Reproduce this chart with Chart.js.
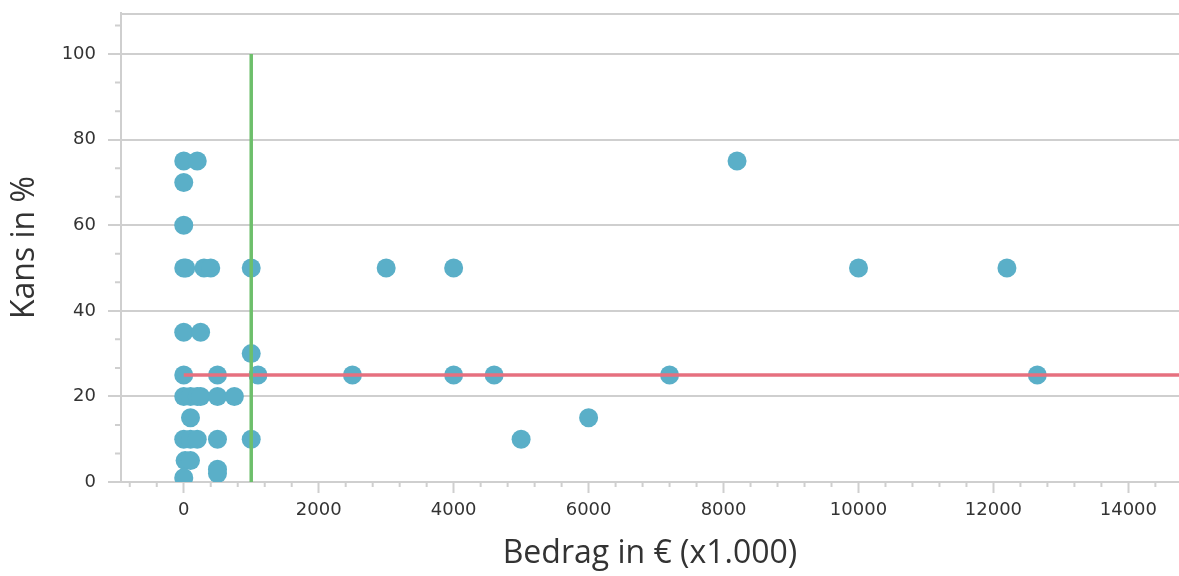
<!DOCTYPE html>
<html>
<head>
<meta charset="utf-8">
<script src="https://cdn.jsdelivr.net/npm/chart.js@4"></script>
<style>
  html, body { margin: 0; padding: 0; overflow: hidden; background: #fff; }
  #wrap { position: relative; width: 1179px; height: 576px; }
  #chart { display: block; }
</style>
</head>
<body>
<div id="wrap"><canvas id="chart"></canvas></div>
<script>
// Bedrag (x1.000 euro) and Kans (%) for each opportunity
const bedrag = [
  0, 200, 8200, 0, 0,
  0, 30, 300, 400, 1000, 3000, 4000, 10000, 12200,
  0, 250, 1000,
  0, 500, 1100, 2500, 4000, 4600, 7200, 12650,
  0, 100, 200, 250, 500, 750,
  100, 6000,
  0, 100, 200, 500, 1000, 5000,
  20, 100, 0, 500, 500
];
const kans = [
  75, 75, 75, 70, 60,
  50, 50, 50, 50, 50, 50, 50, 50, 50,
  35, 35, 30,
  25, 25, 25, 25, 25, 25, 25, 25,
  20, 20, 20, 20, 20, 20,
  15, 15,
  10, 10, 10, 10, 10, 10,
  5, 5, 1, 3, 2
];

// reference lines
const grensBedragX = [1000, 1000];
const grensBedragY = [0, 100];
const grensKansX = [0, 14750];
const grensKansY = [25, 25];

// tick labels
const xTickValues = [0, 2000, 4000, 6000, 8000, 10000, 12000, 14000];
const yTickValues = [0, 20, 40, 60, 80, 100];

const xMin = -930, xMax = 14750;
const yMin = 0, yMax = 109.6;

const axisColor = '#cfcfcf';
const textColor = '#333333';

const toPoints = (xs, ys) => xs.map((v, i) => ({ x: v, y: ys[i] }));

const minorTicks = {
  id: 'minorTicks',
  afterDraw(chart) {
    const { ctx, chartArea, scales: { x, y } } = chart;
    ctx.save();
    ctx.strokeStyle = axisColor;
    ctx.lineWidth = 2;
    ctx.beginPath();
    ctx.moveTo(chartArea.left, chartArea.top + 1);
    ctx.lineTo(chartArea.right, chartArea.top + 1);
    for (let v = -800; v <= x.max; v += 400) {
      if (v % 2000 === 0) continue;
      const px = x.getPixelForValue(v);
      ctx.moveTo(px, chartArea.bottom);
      ctx.lineTo(px, chartArea.bottom + 5);
    }
    for (let i = 1; i * 20 / 3 <= y.max; i++) {
      if (i % 3 === 0) continue;
      const py = y.getPixelForValue(i * 20 / 3);
      ctx.moveTo(chartArea.left - 6, py);
      ctx.lineTo(chartArea.left, py);
    }
    ctx.stroke();
    ctx.restore();
  }
};

new Chart(document.getElementById('chart'), {
  type: 'scatter',
  data: {
    datasets: [
      {
        type: 'line',
        data: toPoints(grensBedragX, grensBedragY),
        borderColor: '#6dbf6b',
        borderWidth: 3.5,
        pointRadius: 0,
        showLine: true,
        clip: false
      },
      {
        type: 'line',
        data: toPoints(grensKansX, grensKansY),
        borderColor: '#e6707f',
        borderWidth: 3.5,
        pointRadius: 0,
        showLine: true,
        clip: false
      },
      {
        data: toPoints(bedrag, kans),
        backgroundColor: '#5aafc8',
        borderWidth: 0,
        pointRadius: 9.5,
        pointHoverRadius: 9.5,
        clip: 0
      }
    ]
  },
  options: {
    responsive: true,
    maintainAspectRatio: false,
    animation: false,
    layout: { autoPadding: false, padding: { top: 13, right: 0, left: 0, bottom: 0 } },
    plugins: {
      legend: { display: false },
      tooltip: { enabled: false }
    },
    scales: {
      x: {
        type: 'linear',
        min: xMin,
        max: xMax,
        afterBuildTicks: (s) => { s.ticks = xTickValues.map(v => ({ value: v })); },
        afterFit: (s) => {
          s.height = 94;
          s.paddingLeft = 0;
          s.paddingRight = 0;
        },
        ticks: {
          padding: 7,
          color: textColor,
          font: { family: 'DejaVu Sans', size: 18 },
          maxRotation: 0,
          autoSkip: false,
          callback: (v) => String(v)
        },
        grid: {
          drawOnChartArea: false,
          tickLength: 11,
          tickColor: axisColor,
          tickWidth: 2
        },
        border: { color: axisColor, width: 2 },
        title: {
          display: true,
          text: 'Bedrag in € (x1.000)',
          color: textColor,
          font: { family: 'Open Sans', size: 32 },
          padding: { bottom: 3, top: 0 }
        }
      },
      y: {
        min: yMin,
        max: yMax,
        afterBuildTicks: (s) => { s.ticks = yTickValues.map(v => ({ value: v })); },
        afterFit: (s) => {
          s.width = 121;
          s.paddingTop = 0;
          s.paddingBottom = 0;
        },
        ticks: {
          padding: 12,
          color: textColor,
          font: { family: 'DejaVu Sans', size: 18 },
          autoSkip: false,
          callback: (v) => String(v)
        },
        grid: {
          color: axisColor,
          lineWidth: 2,
          tickLength: 13,
          tickColor: axisColor,
          tickWidth: 2
        },
        border: { color: axisColor, width: 2 },
        title: {
          display: true,
          text: 'Kans in %',
          color: textColor,
          font: { family: 'Open Sans', size: 32 },
          padding: { top: 6, bottom: 0 }
        }
      }
    }
  },
  plugins: [minorTicks]
});
</script>
</body>
</html>
